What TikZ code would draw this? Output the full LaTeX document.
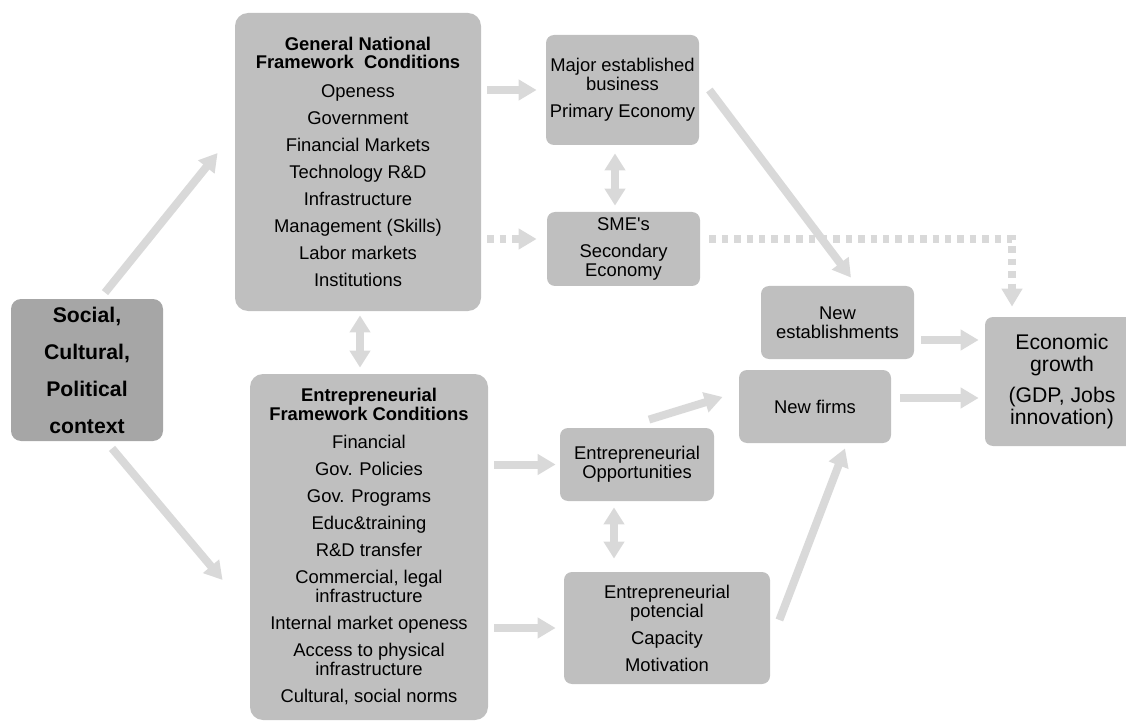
\documentclass[tikz,border=0pt]{standalone}
\usepackage{fontspec}
\setmainfont{Liberation Sans}
\usepackage{tikz}
\usetikzlibrary{arrows.meta}
\usetikzlibrary{positioning}

\definecolor{boxgray}{HTML}{BFBFBF}
\definecolor{darkbox}{HTML}{A6A6A6}
\definecolor{arrowgray}{HTML}{D9D9D9}

\begin{document}
\begin{tikzpicture}[x=0.5pt,y=-0.5pt,
          box/.style={fill=boxgray,rounded corners=4pt,align=center,inner sep=0pt,
            font=\fontsize{9.2pt}{9.5pt}\selectfont},
          bigbox/.style={box,rounded corners=6.5pt},
          fat/.style={draw=arrowgray,line width=4pt,-{Triangle[length=9pt,width=10pt]}},
          fatboth/.style={draw=arrowgray,line width=4pt,{Triangle[length=8.5pt,width=10pt]}-{Triangle[length=8.5pt,width=10pt]}},
          fatdot/.style={fat,dash pattern=on 3.2pt off 3pt}]
  \useasboundingbox (0,0) rectangle (1126,722);
  \clip (0,0) rectangle (1126,722);

  % boxes
  \node[box,fill=darkbox,rounded corners=5pt,minimum width=76pt,minimum height=71pt,
        font=\fontsize{10.6pt}{12pt}\selectfont\bfseries] (social) at (87,370)
    {Social,\\[6.5pt]Cultural,\\[6.5pt]Political\\[6.5pt]context};
  \node[bigbox,minimum width=123pt,minimum height=149pt] (gnfc) at (358,162)
    {\textbf{General National}\\[-0.5pt]\textbf{Framework\ \ Conditions}\\[5pt]
     Openess\\[4pt]Government\\[4pt]Financial Markets\\[4pt]Technology R\&D\\[4pt]
     Infrastructure\\[4pt]Management (Skills)\\[4pt]Labor markets\\[4pt]Institutions};
  \node[bigbox,minimum width=119pt,minimum height=173pt] (efc) at (369,547)
    {\textbf{Entrepreneurial}\\\textbf{Framework Conditions}\\[4.5pt]
     Financial\\[4pt]Gov. Policies\\[4pt]Gov. Programs\\[4pt]Educ\&training\\[4pt]
     R\&D transfer\\[4pt]Commercial, legal\\infrastructure\\[4pt]
     Internal market openess\\[4pt]Access to physical\\infrastructure\\[4pt]
     Cultural, social norms};
  \node[box,minimum width=76.5pt,minimum height=55pt] (major) at (622.5,90)
    {Major established\\business\\[4pt]Primary Economy};
  \node[box,minimum width=76.5pt,minimum height=37pt] (sme) at (623.5,249)
    {SME\textquotesingle s\\[4pt]Secondary\\Economy};
  \node[box,minimum width=76.5pt,minimum height=36.5pt] (newest) at (837.5,322.5)
    {New\\establishments};
  \node[box,minimum width=76pt,minimum height=36.5pt] (newfirms) at (815,406.5)
    {New firms};
  \node[box,minimum width=77pt,minimum height=36.5pt] (entopp) at (637,464.5)
    {Entrepreneurial\\Opportunities};
  \node[box,minimum width=103pt,minimum height=56pt] (entpot) at (667,628)
    {Entrepreneurial\\potencial\\[4pt]Capacity\\[4pt]Motivation};
  \node[box,minimum width=77pt,minimum height=64.5pt,
        font=\fontsize{10.6pt}{11pt}\selectfont] (econ) at (1062,381.5)
    {Economic\\growth\\[4.5pt](GDP, Jobs\\innovation)};

  % helper points
  \coordinate (smein) at ([yshift=5pt]sme.west);
  \coordinate (eg1) at ([yshift=-8.75pt]newest.east);
  \coordinate (eg2) at ([yshift=4.25pt]newfirms.east);
  \coordinate (oa) at ([xshift=-11.5pt]entopp.south);

  % arrows
  \draw[fat] ([xshift=9pt,yshift=3pt]social.north) -- ([xshift=-8.5pt,yshift=4.5pt]gnfc.west);
  \draw[fat] ([xshift=12.5pt,yshift=-3.5pt]social.south) -- ([xshift=-13.5pt,yshift=-16.5pt]efc.west);
  \draw[fatboth] ([xshift=1pt,yshift=-2pt]gnfc.south) -- ([xshift=-4.5pt,yshift=3pt]efc.north);
  \draw[fat,shorten <=3pt,shorten >=4.5pt] (gnfc.east |- major.west) -- (major.west);
  \draw[fatdot,shorten <=3pt,shorten >=5pt] (gnfc.east |- smein) -- (smein);
  \draw[fatboth,shorten <=4pt,shorten >=3pt] ([xshift=-3.75pt]major.south) -- ([xshift=-4.25pt]sme.north);
  \draw[fat] ([xshift=5pt]major.east) -- ([xshift=6.75pt,yshift=4pt]newest.north);
  \draw[fatdot] ([xshift=4.5pt,yshift=5pt]sme.east) -| ([xshift=-25pt,yshift=5pt]econ.north);
  \draw[fat,shorten <=3.5pt,shorten >=3pt] (eg1) -- (eg1 -| econ.west);
  \draw[fat,shorten <=4.5pt,shorten >=3pt] (eg2) -- (eg2 -| econ.west);
  \draw[fat,shorten <=3pt,shorten >=2pt] (efc.east |- entopp.west) -- (entopp.west);
  \draw[fat,shorten <=3pt,shorten >=4pt] (efc.east |- entpot.west) -- (entpot.west);
  \draw[fatboth,shorten <=3pt,shorten >=6.5pt] (oa) -- (oa |- entpot.north);
  \draw[fat] ([xshift=6pt,yshift=4pt]entopp.north) -- ([xshift=-8pt,yshift=4.75pt]newfirms.west);
  \draw[fat] ([xshift=4.5pt,yshift=4pt]entpot.east) -- ([xshift=15pt,yshift=-2.5pt]newfirms.south);
\end{tikzpicture}
\end{document}
